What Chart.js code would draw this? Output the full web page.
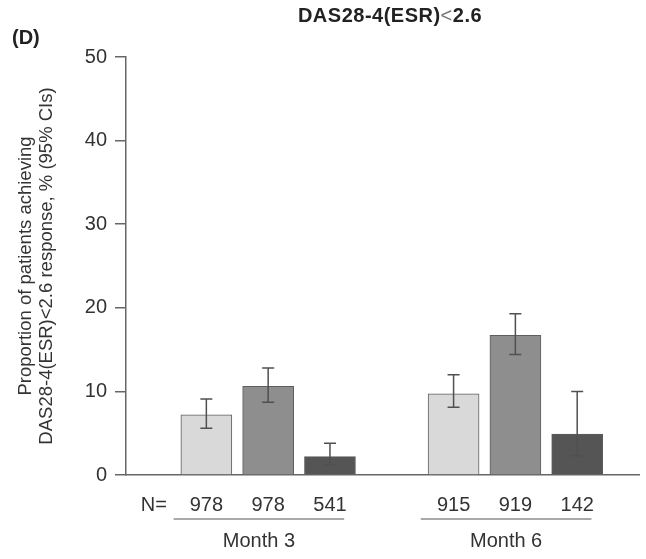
<!DOCTYPE html>
<html>
<head>
<meta charset="utf-8">
<script src="https://cdn.jsdelivr.net/npm/chart.js@4.4.0/dist/chart.umd.min.js"></script>
<style>
  html, body { margin: 0; padding: 0; background: #fff; }
  #wrap { width: 646px; height: 559px; }
</style>
</head>
<body>
<div id="wrap"><canvas id="das28Chart" width="646" height="559"></canvas></div>
<script>
const months = ['Month 3', 'Month 6']
const arms = ['Arm 1', 'Arm 2', 'Arm 3']
const nCounts = [[978, 978, 541], [915, 919, 142]]
const proportions = [[7.2, 10.6, 2.2], [9.7, 16.7, 4.9]]
const ciLower = [[5.6, 8.7, 1.2], [8.1, 14.4, 2.3]]
const ciUpper = [[9.1, 12.8, 3.8], [12.0, 19.3, 10.0]]
const yTicks = [0, 10, 20, 30, 40, 50]
const chartTitle = ['DAS28-4(ESR)', '<', '2.6']
const panelLabel = '(D)'
const yTitle = ['Proportion of patients achieving', 'DAS28-4(ESR)<2.6 response, % (95% CIs)']
const barColors = ['#d9d9d9', '#8e8e8e', '#555555']

const FONT = "'Liberation Sans', Arial, Helvetica, sans-serif"

// slot on the x axis: 3 bars per month, one empty slot between months
const slotOf = (g, i) => g * 4 + i + 1

const xTickSlots = [0.15]
const xTickLabels = ['N=']
months.forEach((m, g) => {
    nCounts[g].forEach((n, i) => {
        xTickSlots.push(slotOf(g, i))
        xTickLabels.push(String(n))
    })
})

const datasets = arms.map((arm, i) => ({
    label: arm,
    data: months.map((m, g) => ({ x: slotOf(g, i), y: proportions[g][i] })),
    backgroundColor: barColors[i],
    borderColor: '#5e5e5e',
    borderWidth: 1,
    grouped: false,
    barThickness: 51,
}))

const errorBars = {
    id: 'errorBars',
    afterDatasetsDraw(chart) {
        const { ctx, scales: { x, y } } = chart
        ctx.save()
        ctx.strokeStyle = '#505050'
        ctx.lineWidth = 1.5
        months.forEach((m, g) => {
            arms.forEach((a, i) => {
                const px = x.getPixelForValue(slotOf(g, i))
                const lo = y.getPixelForValue(ciLower[g][i])
                const hi = y.getPixelForValue(ciUpper[g][i])
                ctx.beginPath()
                ctx.moveTo(px, lo); ctx.lineTo(px, hi)
                ctx.moveTo(px - 6, lo); ctx.lineTo(px + 6, lo)
                ctx.moveTo(px - 6, hi); ctx.lineTo(px + 6, hi)
                ctx.stroke()
            })
        })
        ctx.restore()
    }
}

const extraText = {
    id: 'extraText',
    afterDraw(chart) {
        const { ctx, scales: { x } } = chart
        ctx.save()
        // month group lines and labels
        ctx.strokeStyle = '#555'
        ctx.lineWidth = 1.2
        ctx.fillStyle = '#333'
        ctx.font = '20px ' + FONT
        ctx.textAlign = 'center'
        ctx.textBaseline = 'middle'
        months.forEach((m, g) => {
            const mid = slotOf(g, 1) - 0.15
            ctx.beginPath()
            ctx.moveTo(x.getPixelForValue(mid - 1.38), 519)
            ctx.lineTo(x.getPixelForValue(mid + 1.38), 519)
            ctx.stroke()
            ctx.fillText(m, x.getPixelForValue(mid), 541)
        })

        // title, "<" drawn in normal weight
        const bold = 'bold 20px ' + FONT
        const normal = '20px ' + FONT
        const fonts = [bold, normal, bold]
        ctx.letterSpacing = '0.5px'
        let total = 0
        const widths = chartTitle.map((t, k) => { ctx.font = fonts[k]; const w = ctx.measureText(t).width; total += w; return w })
        let tx = 390 - total / 2
        ctx.textAlign = 'left'
        chartTitle.forEach((t, k) => {
            ctx.font = fonts[k]
            ctx.fillStyle = k === 1 ? '#777' : '#222'
            ctx.fillText(t, tx, 16)
            tx += widths[k]
        })
        ctx.letterSpacing = '0px'

        ctx.font = 'bold 20px ' + FONT
        ctx.fillStyle = '#222'
        ctx.fillText(panelLabel, 12, 38)
        ctx.restore()
    }
}

new Chart(document.getElementById('das28Chart'), {
    type: 'bar',
    data: { datasets: datasets },
    options: {
        responsive: false,
        animation: false,
        layout: { padding: { top: 57, right: 7, bottom: 0, left: 0 } },
        plugins: { legend: { display: false }, tooltip: { enabled: false } },
        scales: {
            x: {
                type: 'linear',
                min: -0.3,
                max: 8,
                offset: false,
                grid: { display: false },
                border: { display: true, color: '#666', width: 1.5 },
                afterBuildTicks: (s) => { s.ticks = xTickSlots.map(v => ({ value: v })) },
                afterFit: (s) => { s.height = 84 },
                ticks: {
                    autoSkip: false,
                    maxRotation: 0,
                    padding: 10,
                    color: '#333',
                    font: { family: FONT, size: 20 },
                    callback: (v, idx) => xTickLabels[idx],
                },
            },
            y: {
                min: 0,
                max: 50,
                afterBuildTicks: (s) => { s.ticks = yTicks.map(v => ({ value: v })) },
                afterFit: (s) => { s.width = 126 },
                grid: { drawOnChartArea: false, tickLength: 11, color: '#666', lineWidth: 1.5 },
                border: { color: '#666', width: 1.5 },
                ticks: { padding: 8, color: '#333', font: { family: FONT, size: 20 } },
                title: {
                    display: true,
                    text: yTitle,
                    color: '#333',
                    padding: { top: 16, bottom: 0 },
                    font: { family: FONT, size: 18.5, lineHeight: 1.12 },
                },
            },
        },
    },
    plugins: [errorBars, extraText],
})
</script>
</body>
</html>
